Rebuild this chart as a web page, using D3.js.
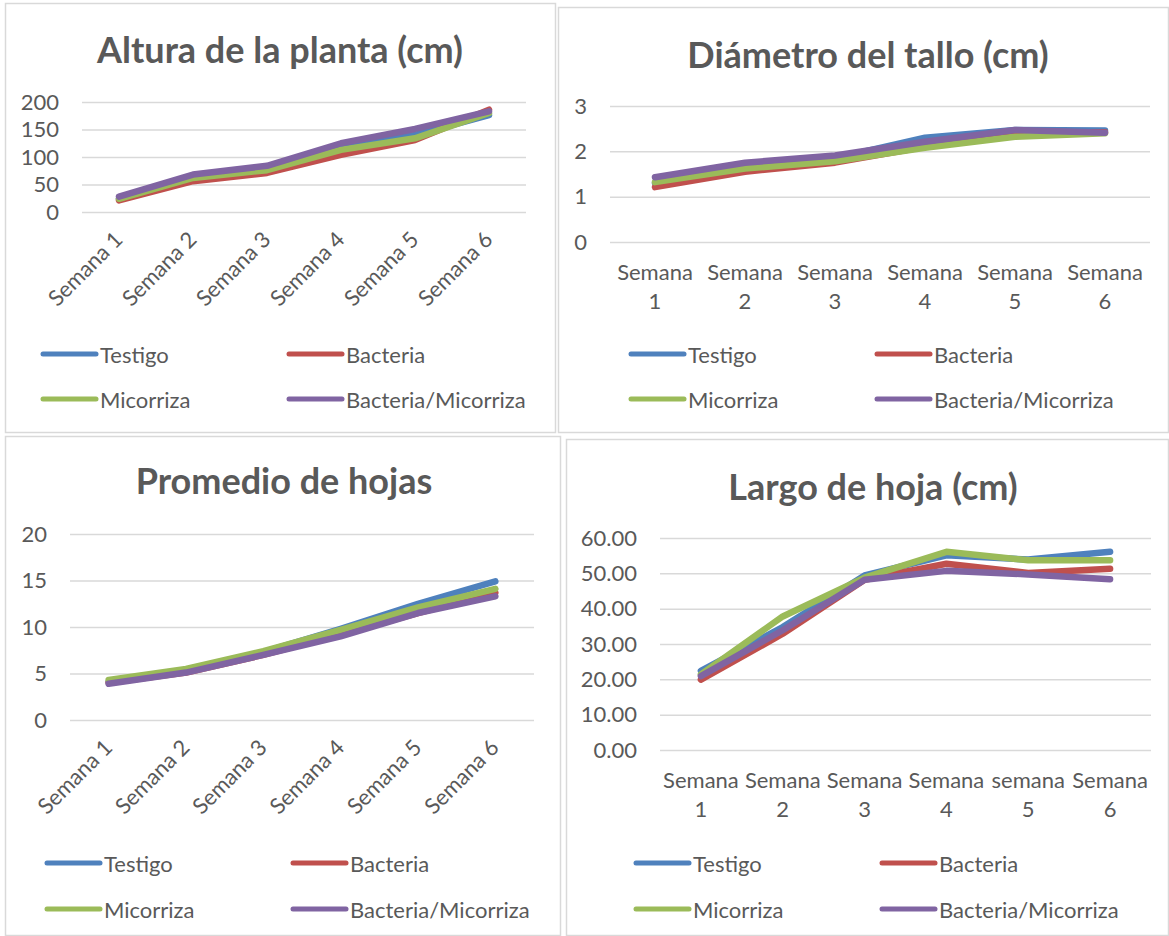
<!DOCTYPE html>
<html>
<head>
<meta charset="utf-8">
<script src="https://cdn.jsdelivr.net/npm/d3@7/dist/d3.min.js"></script>
<style>
  body { margin: 0; background: #fff; }
  svg { display: block; font-family: Lato, "Open Sans", sans-serif; }
</style>
</head>
<body>
<div id="chart"></div>
<script>
// series + categories
const series = ["Testigo", "Bacteria", "Micorriza", "Bacteria/Micorriza"];
const colores = ["#4f81bd", "#c0504d", "#9bbb59", "#8064a2"];
const semanas = ["Semana 1", "Semana 2", "Semana 3", "Semana 4", "Semana 5", "Semana 6"];
const semanasLargo = ["Semana 1", "Semana 2", "Semana 3", "Semana 4", "semana 5", "Semana 6"];

// Altura de la planta (cm)
const alturaTestigo = [24, 61, 77, 116, 140, 176];
const alturaBacteria = [21, 56, 71, 104, 131, 186];
const alturaMicorriza = [24, 62, 76, 113, 134, 180];
const alturaBactMic = [28, 68, 84, 125, 151, 183];
const alturaTicks = [0, 50, 100, 150, 200];

// Diámetro del tallo (cm)
const diametroTestigo = [1.30, 1.65, 1.85, 2.30, 2.47, 2.46];
const diametroBacteria = [1.21, 1.55, 1.75, 2.10, 2.42, 2.42];
const diametroMicorriza = [1.32, 1.62, 1.78, 2.08, 2.32, 2.40];
const diametroBactMic = [1.43, 1.75, 1.91, 2.21, 2.47, 2.41];
const diametroTicks = [0, 1, 2, 3];

// Promedio de hojas
const hojasTestigo = [4.1, 5.4, 7.3, 9.8, 12.5, 14.9];
const hojasBacteria = [4.0, 5.1, 7.0, 9.2, 11.5, 13.7];
const hojasMicorriza = [4.3, 5.5, 7.4, 9.7, 12.1, 14.1];
const hojasBactMic = [3.9, 5.1, 7.0, 9.0, 11.5, 13.3];
const hojasTicks = [0, 5, 10, 15, 20];

// Largo de hoja (cm)
const largoTestigo = [22.4, 34.8, 49.4, 55.1, 53.9, 56.1];
const largoBacteria = [19.9, 32.9, 48.2, 52.7, 50.1, 51.3];
const largoMicorriza = [21.4, 37.8, 48.8, 56.1, 53.7, 53.7];
const largoBactMic = [20.9, 33.9, 48.2, 50.7, 49.7, 48.3];
const largoTicks = [0, 10, 20, 30, 40, 50, 60];

const W = 1169, H = 936;
const gris = "#595959";

const svg = d3.select("#chart").append("svg")
    .attr("width", W).attr("height", H)
    .attr("viewBox", `0 0 ${W} ${H}`);

const paneles = [
    { titulo: "Altura de la planta (cm)", cats: semanas, ticks: alturaTicks, fmt: d3.format("d"),
      datos: [alturaTestigo, alturaBacteria, alturaMicorriza, alturaBactMic],
      marco: [5, 3, 551, 430], plot: [82, 526, 102, 212], tituloX: 280, tituloY: 49,
      rot: true, legY: [354, 399], legX: [41, 287] },
    { titulo: "Diámetro del tallo (cm)", cats: semanas, ticks: diametroTicks, fmt: d3.format("d"),
      datos: [diametroTestigo, diametroBacteria, diametroMicorriza, diametroBactMic],
      marco: [558, 7, 611, 426], plot: [610, 1150, 106, 242], tituloX: 868, tituloY: 54,
      rot: false, legY: [354, 399], legX: [629, 875] },
    { titulo: "Promedio de hojas", cats: semanas, ticks: hojasTicks, fmt: d3.format("d"),
      datos: [hojasTestigo, hojasBacteria, hojasMicorriza, hojasBactMic],
      marco: [5, 436, 556, 500], plot: [70, 534, 534, 720], tituloX: 284, tituloY: 480,
      rot: true, legY: [863, 909], legX: [45, 291] },
    { titulo: "Largo de hoja (cm)", cats: semanasLargo, ticks: largoTicks, fmt: d3.format(".2f"),
      datos: [largoTestigo, largoBacteria, largoMicorriza, largoBactMic],
      marco: [566, 439, 603, 497], plot: [660, 1151, 538, 750], tituloX: 873, tituloY: 486,
      rot: false, legY: [863, 909], legX: [634, 880] }
];

paneles.forEach(p => {
    const g = svg.append("g");
    const [mx, my, mw, mh] = p.marco;
    const [x0, x1, yTop, yBot] = p.plot;

    g.append("rect")
        .attr("x", mx + 0.5).attr("y", my + 0.5)
        .attr("width", mw - 1).attr("height", mh - 1)
        .attr("fill", "#fff").attr("stroke", "#d9d9d9").attr("stroke-width", 1.5);

    // title
    g.append("text")
        .attr("x", p.tituloX).attr("y", p.tituloY)
        .attr("text-anchor", "middle").attr("dominant-baseline", "central")
        .attr("font-size", 36).attr("font-weight", "bold").attr("fill", gris)
        .text(p.titulo);

    const x = d3.scaleBand().domain(p.cats).range([x0, x1]);
    const y = d3.scaleLinear().domain([0, d3.max(p.ticks)]).range([yBot, yTop]);

    // gridlines + y labels
    const yAxis = g.append("g")
        .attr("transform", `translate(${x0},0)`)
        .call(d3.axisLeft(y).tickValues(p.ticks).tickFormat(p.fmt).tickSize(-(x1 - x0)).tickPadding(23));
    yAxis.select(".domain").remove();
    yAxis.selectAll(".tick line").attr("stroke", "#d9d9d9").attr("stroke-width", 1.5);
    yAxis.selectAll(".tick text").attr("fill", gris).attr("font-size", 22)
        .attr("font-family", "Lato, sans-serif");

    // x labels
    const cx = d => x(d) + x.bandwidth() / 2;
    if (p.rot) {
        g.selectAll(".xl").data(p.cats).enter().append("text")
            .attr("transform", d => `translate(${cx(d) + 5},${yBot + 29}) rotate(-45)`)
            .attr("text-anchor", "end")
            .attr("font-size", 22).attr("fill", gris)
            .text(d => d);
    } else {
        const t = g.selectAll(".xl").data(p.cats).enter().append("text")
            .attr("text-anchor", "middle")
            .attr("font-size", 22).attr("fill", gris);
        t.append("tspan").attr("x", cx).attr("y", yBot + 38).text(d => d.split(" ")[0]);
        t.append("tspan").attr("x", cx).attr("y", yBot + 67).text(d => d.split(" ")[1]);
    }

    // lines
    const linea = d3.line()
        .x((d, i) => cx(p.cats[i]))
        .y(d => y(d));
    p.datos.forEach((serie, k) => {
        g.append("path")
            .datum(serie)
            .attr("d", linea)
            .attr("fill", "none")
            .attr("stroke", colores[k])
            .attr("stroke-width", 6.5)
            .attr("stroke-linejoin", "round")
            .attr("stroke-linecap", "round");
    });

    // legend 2x2
    series.forEach((s, k) => {
        const lx = p.legX[k % 2], ly = p.legY[Math.floor(k / 2)];
        g.append("line")
            .attr("x1", lx + 2).attr("x2", lx + 55)
            .attr("y1", ly).attr("y2", ly)
            .attr("stroke", colores[k]).attr("stroke-width", 5)
            .attr("stroke-linecap", "round");
        g.append("text")
            .attr("x", lx + 59).attr("y", ly)
            .attr("dominant-baseline", "central")
            .attr("font-size", 22).attr("fill", gris)
            .text(s);
    });
});
</script>
</body>
</html>
